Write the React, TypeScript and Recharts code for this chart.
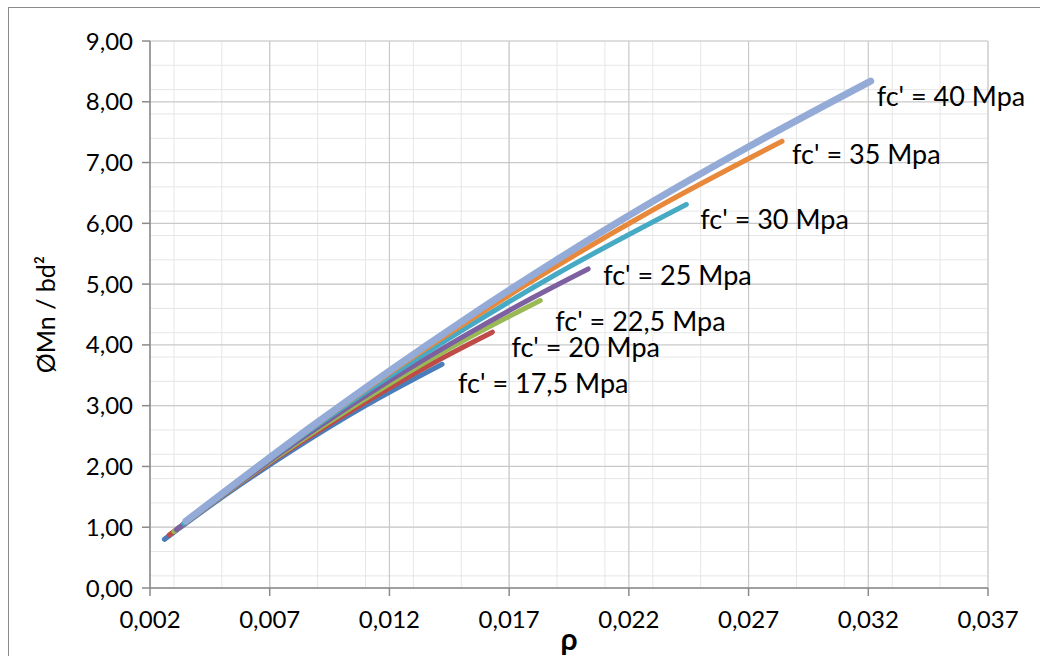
import { LineChart, Line, XAxis, YAxis, CartesianGrid, Label } from "recharts";

// rho values and ØMn/bd², one pair of arrays per concrete grade
const rho175 = [0.0026, 0.005, 0.008, 0.011, 0.0142];
const mn175 = [0.8, 1.49, 2.28, 3.0, 3.68];
const rho20 = [0.0028, 0.005, 0.008, 0.011, 0.014, 0.0163];
const mn20 = [0.87, 1.51, 2.32, 3.06, 3.74, 4.21];
const rho225 = [0.003, 0.006, 0.009, 0.012, 0.015, 0.0183];
const mn225 = [0.93, 1.8, 2.61, 3.36, 4.05, 4.73];
const rho25 = [0.0031, 0.006, 0.009, 0.012, 0.015, 0.018, 0.0203];
const mn25 = [0.96, 1.81, 2.64, 3.41, 4.12, 4.78, 5.25];
const rho30 = [0.0034, 0.007, 0.011, 0.015, 0.019, 0.0244];
const mn30 = [1.06, 2.12, 3.22, 4.23, 5.17, 6.31];
const rho35 = [0.0035, 0.008, 0.013, 0.018, 0.023, 0.0284];
const mn35 = [1.1, 2.42, 3.8, 5.06, 6.22, 7.35];
const rho40 = [0.0035, 0.009, 0.015, 0.021, 0.027, 0.0321];
const mn40 = [1.1, 2.73, 4.38, 5.89, 7.26, 8.34];

const seriesNames = [
  "fc' = 17,5 Mpa",
  "fc' = 20 Mpa",
  "fc' = 22,5 Mpa",
  "fc' = 25 Mpa",
  "fc' = 30 Mpa",
  "fc' = 35 Mpa",
  "fc' = 40 Mpa",
];

const xTicks = [0.002, 0.007, 0.012, 0.017, 0.022, 0.027, 0.032, 0.037];
const yTicks = [0, 1, 2, 3, 4, 5, 6, 7, 8, 9];

// minor gridlines (every 0.001 / every 0.2)
const minorX: number[] = [];
for (let i = 2; i <= 37; i++) minorX.push(i / 1000);
const minorY: number[] = [];
for (let i = 0; i <= 45; i++) minorY.push(i / 5);

const pairs = [
  [rho175, mn175],
  [rho20, mn20],
  [rho225, mn225],
  [rho25, mn25],
  [rho30, mn30],
  [rho35, mn35],
  [rho40, mn40],
];

const styles = [
  { color: "#4a7ebb", width: 5, dx: 16, dy: 18 },
  { color: "#be4b48", width: 5, dx: 19, dy: 14 },
  { color: "#98b954", width: 5, dx: 15, dy: 20 },
  { color: "#7d60a0", width: 5, dx: 15, dy: 6 },
  { color: "#46aac5", width: 5, dx: 14, dy: 14 },
  { color: "#e8883a", width: 5, dx: 10, dy: 12 },
  { color: "#93abd6", width: 7, dx: 6, dy: 14 },
];

const series = pairs.map(([xs, ys]) => xs.map((x, i) => ({ rho: x, mn: ys[i] })));

const fmtY = (v: number) => v.toFixed(2).replace(".", ",");
const fmtX = (v: number) => v.toFixed(3).replace(".", ",");

function endLabel(text: string, last: number, dx: number, dy: number) {
  return (props: any) => {
    if (props.index !== last) return <g />;
    return (
      <text
        x={props.x + dx}
        y={props.y + dy}
        fontSize={27}
        fill="#000"
        dominantBaseline="central"
        fontFamily="Lato, sans-serif"
      >
        {text}
      </text>
    );
  };
}

export default function App() {
  return (
    <div style={{ position: "absolute", left: 0, top: 0, width: 1040, height: 656, background: "#fff", fontFamily: "Lato, sans-serif" }}>
      <div
        style={{
          position: "absolute",
          left: 8,
          top: 7,
          width: 1100,
          height: 700,
          borderLeft: "1.5px solid #8a8a8a",
          borderTop: "1.5px solid #8a8a8a",
        }}
      />
      <div style={{ position: "absolute", left: 0, top: 0 }}>
        <LineChart width={1040} height={656} margin={{ top: 41, right: 52, left: 80, bottom: 38 }}>
          <CartesianGrid horizontalValues={minorY} verticalValues={minorX} stroke="#e6e6e6" strokeWidth={1} />
          <CartesianGrid horizontalValues={yTicks} verticalValues={xTicks} stroke="#c9c9c9" strokeWidth={1.2} />
          <XAxis
            type="number"
            dataKey="rho"
            domain={[0.002, 0.037]}
            ticks={xTicks}
            tickFormatter={fmtX}
            allowDataOverflow
            height={30}
            tickSize={8}
            tickMargin={15}
            stroke="#8a8a8a"
            strokeWidth={1.5}
            tick={{ fontSize: 24, fill: "#000" }}
          >
            <Label value="ρ" position="insideBottom" offset={-32} fontSize={30} fontWeight={700} fill="#000" />
          </XAxis>
          <YAxis
            type="number"
            domain={[0, 9]}
            ticks={yTicks}
            tickFormatter={fmtY}
            allowDataOverflow
            width={70}
            tickSize={8}
            tickMargin={9}
            stroke="#8a8a8a"
            strokeWidth={1.5}
            tick={{ fontSize: 24, fill: "#000" }}
          >
            <Label
              value="ØMn / bd²"
              angle={-90}
              position="insideLeft"
              offset={-34}
              fontSize={25}
              fill="#000"
              textAnchor="middle"
            />
          </YAxis>
          {series.map((d, i) => (
            <Line
              key={seriesNames[i]}
              data={d}
              dataKey="mn"
              type="monotone"
              stroke={styles[i].color}
              strokeWidth={styles[i].width}
              strokeLinecap="round"
              dot={false}
              activeDot={false}
              isAnimationActive={false}
              label={endLabel(seriesNames[i], d.length - 1, styles[i].dx, styles[i].dy)}
            />
          ))}
        </LineChart>
      </div>
    </div>
  );
}
